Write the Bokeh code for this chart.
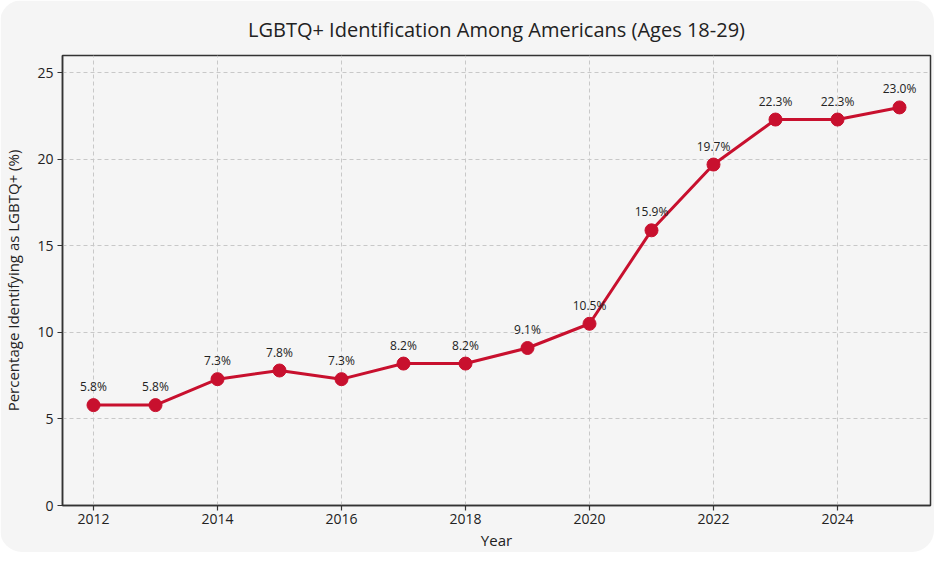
from bokeh.plotting import figure
from bokeh.models import ColumnDataSource, Range1d, FixedTicker, Title
from bokeh.embed import file_html
from bokeh.resources import INLINE
from bokeh.core.properties import value

years = [2012, 2013, 2014, 2015, 2016, 2017, 2018, 2019, 2020, 2021, 2022, 2023, 2024, 2025]
pct = [5.8, 5.8, 7.3, 7.8, 7.3, 8.2, 8.2, 9.1, 10.5, 15.9, 19.7, 22.3, 22.3, 23.0]
labels = [f"{v:.1f}%" for v in pct]
x_ticks = [2012, 2014, 2016, 2018, 2020, 2022, 2024]
y_ticks = [0, 5, 10, 15, 20, 25]

FONT = "Open Sans"
RED = "#c8102e"
BG = "#f5f5f5"
TXT = "#222222"

src = ColumnDataSource(dict(x=years, y=pct, lab=labels))

p = figure(width=934, height=552, output_backend="svg", toolbar_location=None,
           x_range=Range1d(2011.5, 2025.5), y_range=Range1d(0, 26),
           min_border_left=54, min_border_right=4, min_border_top=55, min_border_bottom=39)

p.title = Title(text="LGBTQ+ Identification Among Americans (Ages 18-29)", align="center",
                text_font=FONT, text_font_size="20px", text_font_style="normal",
                text_color=TXT, offset=0, standoff=26)

p.background_fill_color = BG
p.border_fill_color = BG
p.outline_line_color = "#333333"
p.outline_line_width = 1.5
p.styles = {"border-radius": "22px", "overflow": "hidden"}

p.xgrid.grid_line_color = "#c8c8c8"
p.ygrid.grid_line_color = "#c8c8c8"
p.xgrid.grid_line_dash = "4 3"
p.ygrid.grid_line_dash = "4 3"
p.xgrid.grid_line_width = 1
p.ygrid.grid_line_width = 1

p.xaxis.ticker = FixedTicker(ticks=x_ticks)
p.yaxis.ticker = FixedTicker(ticks=y_ticks)
for ax in (p.xaxis, p.yaxis):
    ax.axis_line_color = "#333333"
    ax.axis_line_width = 1.5
    ax.major_tick_line_color = "#333333"
    ax.major_tick_line_width = 1.2
    ax.major_tick_in = 0
    ax.major_tick_out = 5
    ax.minor_tick_line_color = None
    ax.major_label_text_font = FONT
    ax.major_label_text_font_size = "14px"
    ax.major_label_text_color = TXT
    ax.axis_label_text_font = FONT
    ax.axis_label_text_font_size = "15px"
    ax.axis_label_text_font_style = "normal"
    ax.axis_label_text_color = TXT
p.xaxis.axis_label = "Year"
p.yaxis.axis_label = "Percentage Identifying as LGBTQ+ (%)"
p.xaxis.axis_label_standoff = 3
p.yaxis.axis_label_standoff = 11
p.xaxis.major_label_standoff = 3
p.yaxis.major_label_standoff = 4

p.line("x", "y", source=src, line_color=RED, line_width=3)
p.scatter("x", "y", source=src, size=13, fill_color=RED, line_color=RED)
p.text("x", "y", text="lab", source=src, text_font=value(FONT), text_font_size="12px",
       text_color=TXT, text_align="center", text_baseline="bottom", y_offset=-10)

open("out.html", "w").write(file_html(p, INLINE))
